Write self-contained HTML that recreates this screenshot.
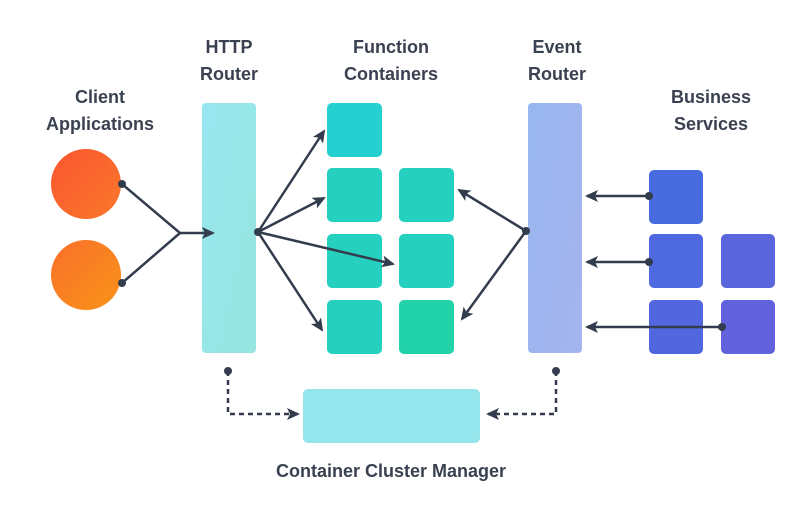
<!DOCTYPE html>
<html><head><style>
body{margin:0;background:#fff;}
svg{display:block}
text{font-family:"Liberation Sans",sans-serif;font-weight:bold;font-size:18px;fill:#3a4150;text-anchor:middle}
</style></head><body>
<svg width="808" height="510" viewBox="0 0 808 510">
<defs>
<linearGradient id="o1" x1="0" y1="0" x2="1" y2="1"><stop offset="0" stop-color="#fb5530"/><stop offset="1" stop-color="#f9782a"/></linearGradient>
<linearGradient id="o2" x1="0" y1="0" x2="1" y2="1"><stop offset="0" stop-color="#f9702a"/><stop offset="1" stop-color="#f99318"/></linearGradient>
<linearGradient id="hr" x1="0" y1="0" x2="1" y2="1"><stop offset="0" stop-color="#98e6f0"/><stop offset="1" stop-color="#96e5df"/></linearGradient>
<linearGradient id="er" x1="0" y1="0" x2="1" y2="1"><stop offset="0" stop-color="#98b6f0"/><stop offset="1" stop-color="#a5b4ee"/></linearGradient>
<marker id="a" markerWidth="13" markerHeight="12" refX="11" refY="6" orient="auto" markerUnits="userSpaceOnUse"><path d="M0,0 L13,6 L0,12 L3,6z" fill="#333c4d"/></marker>
</defs>
<text x="229" y="53">HTTP</text><text x="229" y="80">Router</text>
<text x="391" y="53">Function</text><text x="391" y="80">Containers</text>
<text x="557" y="53">Event</text><text x="557" y="80">Router</text>
<text x="100" y="103">Client</text><text x="100" y="130">Applications</text>
<text x="711" y="103">Business</text><text x="711" y="130">Services</text>
<text x="391" y="477">Container Cluster Manager</text>
<circle cx="86" cy="184" r="35" fill="url(#o1)"/>
<circle cx="86" cy="275" r="35" fill="url(#o2)"/>
<rect x="202" y="103" width="54" height="250" rx="4" fill="url(#hr)"/>
<rect x="528" y="103" width="54" height="250" rx="4" fill="url(#er)"/>
<g fill="#26cfd0"><rect x="327" y="103" width="55" height="54" rx="5"/></g>
<g fill="#25d0bf">
<rect x="327" y="168" width="55" height="54" rx="5"/><rect x="327" y="234" width="55" height="54" rx="5"/><rect x="327" y="300" width="55" height="54" rx="5"/>
<rect x="399" y="168" width="55" height="54" rx="5"/><rect x="399" y="234" width="55" height="54" rx="5"/><rect x="399" y="300" width="55" height="54" rx="5" fill="#22d2a8"/>
</g>
<rect x="649" y="170" width="54" height="54" rx="5" fill="#486be0"/>
<rect x="649" y="234" width="54" height="54" rx="5" fill="#4f6ae0"/>
<rect x="649" y="300" width="54" height="54" rx="5" fill="#5166df"/>
<rect x="721" y="234" width="54" height="54" rx="5" fill="#5a66dd"/>
<rect x="721" y="300" width="54" height="54" rx="5" fill="#6263dc"/>
<rect x="303" y="389" width="177" height="54" rx="5" fill="#95e6ec"/>
<g stroke="#333c4d" stroke-width="2.5" fill="none">
<polyline points="122,184 180,233 122,283"/>
<line x1="180" y1="233" x2="213" y2="233" marker-end="url(#a)"/>
<line x1="258" y1="232" x2="324" y2="131" marker-end="url(#a)"/>
<line x1="258" y1="232" x2="324" y2="198" marker-end="url(#a)"/>
<line x1="258" y1="232" x2="393" y2="264" marker-end="url(#a)"/>
<line x1="258" y1="232" x2="322" y2="330" marker-end="url(#a)"/>
<line x1="526" y1="231" x2="459" y2="190" marker-end="url(#a)"/>
<line x1="526" y1="231" x2="462" y2="319" marker-end="url(#a)"/>
<line x1="649" y1="196" x2="587" y2="196" marker-end="url(#a)"/>
<line x1="649" y1="262" x2="587" y2="262" marker-end="url(#a)"/>
<line x1="722" y1="327" x2="587" y2="327" marker-end="url(#a)"/>
<polyline points="228,371 228,414 298,414" stroke-dasharray="5,4" marker-end="url(#a)"/>
<polyline points="556,371 556,414 488,414" stroke-dasharray="5,4" marker-end="url(#a)"/>
</g>
<g fill="#333c4d">
<circle cx="122" cy="184" r="4"/><circle cx="122" cy="283" r="4"/>
<circle cx="258" cy="232" r="4"/><circle cx="526" cy="231" r="4"/>
<circle cx="649" cy="196" r="4"/><circle cx="649" cy="262" r="4"/><circle cx="722" cy="327" r="4"/>
<circle cx="228" cy="371" r="4"/><circle cx="556" cy="371" r="4"/>
</g>
</svg>
</body></html>
